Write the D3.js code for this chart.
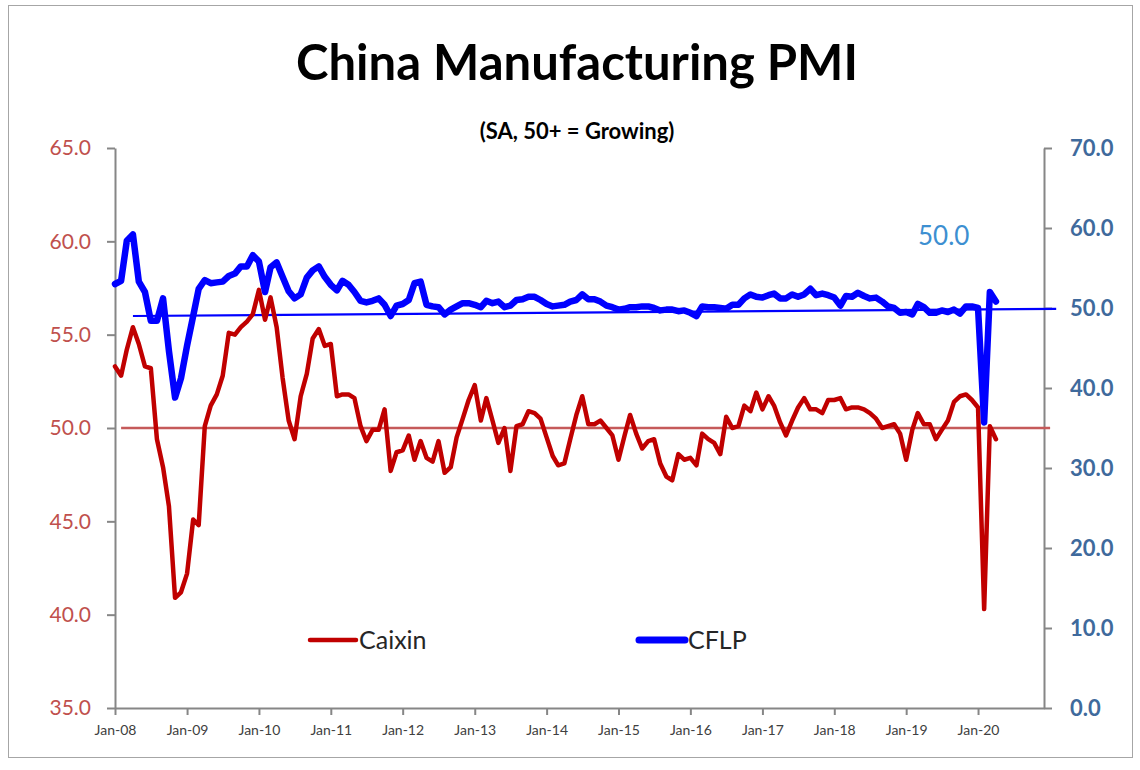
<!DOCTYPE html>
<html>
<head>
<meta charset="utf-8">
<script src="https://cdn.jsdelivr.net/npm/d3@7"></script>
<style>
  body { margin: 0; background: #fff; }
  text { font-family: Lato, "Open Sans", sans-serif; }
</style>
</head>
<body>
<svg width="1140" height="770"></svg>
<script>
// monthly values, Jan-08 .. Apr-20
var firstMonth = new Date(2008, 0, 1);

var caixin = [
  53.3, 52.8, 54.2, 55.4, 54.5, 53.3, 53.2, 49.4, 47.9, 45.8, 40.9, 41.2,
  42.2, 45.1, 44.8, 50.1, 51.2, 51.8, 52.8, 55.1, 55.0, 55.4, 55.7, 56.1,
  57.4, 55.8, 57.0, 55.4, 52.7, 50.4, 49.4, 51.7, 52.9, 54.8, 55.3, 54.4,
  54.5, 51.7, 51.8, 51.8, 51.6, 50.1, 49.3, 49.9, 49.9, 51.0, 47.7, 48.7,
  48.8, 49.6, 48.3, 49.3, 48.4, 48.2, 49.3, 47.6, 47.9, 49.5, 50.5, 51.5,
  52.3, 50.4, 51.6, 50.4, 49.2, 50.0, 47.7, 50.1, 50.2, 50.9, 50.8, 50.5,
  49.5, 48.5, 48.0, 48.1, 49.4, 50.7, 51.7, 50.2, 50.2, 50.4, 50.0, 49.6,
  48.3, 49.6, 50.7, 49.7, 48.9, 49.3, 49.4, 48.1, 47.4, 47.2, 48.6, 48.3,
  48.4, 48.0, 49.7, 49.4, 49.2, 48.6, 50.6, 50.0, 50.1, 51.2, 50.9, 51.9,
  51.0, 51.7, 51.2, 50.3, 49.6, 50.4, 51.1, 51.6, 51.0, 51.0, 50.8, 51.5,
  51.5, 51.6, 51.0, 51.1, 51.1, 51.0, 50.8, 50.5, 50.0, 50.1, 50.2, 49.7,
  48.3, 49.9, 50.8, 50.2, 50.2, 49.4, 49.9, 50.4, 51.4, 51.7, 51.8, 51.5,
  51.1, 40.3, 50.1, 49.4
];

var cflp = [
  53.0, 53.4, 58.4, 59.2, 53.3, 52.0, 48.4, 48.4, 51.2, 44.6, 38.8, 41.2,
  45.3, 49.0, 52.4, 53.5, 53.1, 53.2, 53.3, 54.0, 54.3, 55.2, 55.2, 56.6,
  55.8, 52.0, 55.1, 55.7, 53.9, 52.1, 51.2, 51.7, 53.8, 54.7, 55.2, 53.9,
  52.9, 52.2, 53.4, 52.9, 52.0, 50.9, 50.7, 50.9, 51.2, 50.4, 49.0, 50.3,
  50.5, 51.0, 53.1, 53.3, 50.4, 50.2, 50.1, 49.2, 49.8, 50.2, 50.6, 50.6,
  50.4, 50.1, 50.9, 50.6, 50.8, 50.1, 50.3, 51.0, 51.1, 51.4, 51.4, 51.0,
  50.5, 50.2, 50.3, 50.4, 50.8, 51.0, 51.7, 51.1, 51.1, 50.8, 50.3, 50.1,
  49.8, 49.9, 50.1, 50.1, 50.2, 50.2, 50.0, 49.7, 49.8, 49.8, 49.6, 49.7,
  49.4, 49.0, 50.2, 50.1, 50.1, 50.0, 49.9, 50.4, 50.4, 51.2, 51.7, 51.4,
  51.3, 51.6, 51.8, 51.2, 51.2, 51.7, 51.4, 51.7, 52.4, 51.6, 51.8, 51.6,
  51.3, 50.3, 51.5, 51.4, 51.9, 51.5, 51.2, 51.3, 50.8, 50.2, 50.0, 49.4,
  49.5, 49.2, 50.5, 50.1, 49.4, 49.4, 49.7, 49.5, 49.8, 49.3, 50.2, 50.2,
  50.0, 35.7, 52.0, 50.8
];

// 50 reference lines
var caixinRef = [[new Date(2008, 1, 1), 50], [new Date(2021, 0, 1), 50]];
var cflpRef = [[new Date(2008, 3, 1), 49.0], [new Date(2021, 1, 1), 49.9]];

var leftTicks = [35, 40, 45, 50, 55, 60, 65];
var rightTicks = [0, 10, 20, 30, 40, 50, 60, 70];
var yearTicks = d3.range(2008, 2021).map(function(y) { return new Date(y, 0, 1); });

var svg = d3.select("svg");

// chart frame
svg.append("rect")
  .attr("x", 8.5).attr("y", 5.5)
  .attr("width", 1124).attr("height", 752)
  .attr("fill", "none").attr("stroke", "#a6a6a6").attr("stroke-width", 1);

var x = d3.scaleTime().domain([firstMonth, new Date(2020, 11, 1)]).range([115, 1044]),
    yL = d3.scaleLinear().domain([35, 65]).range([708, 148]),
    yR = d3.scaleLinear().domain([0, 70]).range([708, 148]);

function month(i) { return d3.timeMonth.offset(firstMonth, i); }

var axisColor = "#868686";

// left axis
var gl = svg.append("g").attr("transform", "translate(115,0)")
  .call(d3.axisLeft(yL).tickValues(leftTicks).tickFormat(d3.format(".1f"))
    .tickSize(8).tickSizeOuter(0).tickPadding(16));
gl.selectAll("text").attr("fill", "#c0504d").style("font-size", "21px");

// right axis
var gr = svg.append("g").attr("transform", "translate(1044,0)")
  .call(d3.axisRight(yR).tickValues(rightTicks).tickFormat(d3.format(".1f"))
    .tickSize(8).tickSizeOuter(0).tickPadding(18));
gr.selectAll("text").attr("fill", "#3f6a9c").style("font-size", "22px").style("font-weight", "bold");

// bottom axis
var gb = svg.append("g").attr("transform", "translate(0,708)")
  .call(d3.axisBottom(x).tickValues(yearTicks).tickFormat(d3.timeFormat("%b-%y"))
    .tickSize(7).tickSizeOuter(0).tickPadding(10));
gb.selectAll("text").attr("fill", "#404040").style("font-size", "14px");

svg.selectAll(".domain, .tick line").attr("stroke", axisColor).attr("stroke-width", 2);

var lineL = d3.line().x(function(d) { return x(d[0]); }).y(function(d) { return yL(d[1]); }),
    lineR = d3.line().x(function(d) { return x(d[0]); }).y(function(d) { return yR(d[1]); });

svg.append("path").datum(caixinRef)
  .attr("d", lineL).attr("fill", "none").attr("stroke", "#c55a5a").attr("stroke-width", 2.5);
svg.append("path").datum(cflpRef)
  .attr("d", lineR).attr("fill", "none").attr("stroke", "#0000ff").attr("stroke-width", 2.2);

svg.append("path")
  .datum(caixin.map(function(v, i) { return [month(i), v]; }))
  .attr("d", lineL).attr("fill", "none")
  .attr("stroke", "#c00000").attr("stroke-width", 4.5)
  .attr("stroke-linejoin", "round").attr("stroke-linecap", "round");

svg.append("path")
  .datum(cflp.map(function(v, i) { return [month(i), v]; }))
  .attr("d", lineR).attr("fill", "none")
  .attr("stroke", "#0000ff").attr("stroke-width", 6.5)
  .attr("stroke-linejoin", "round").attr("stroke-linecap", "round");

// titles
svg.append("text")
  .attr("x", 577).attr("y", 80)
  .attr("text-anchor", "middle")
  .style("font-size", "49px").style("font-weight", "bold").attr("fill", "#000")
  .text("China Manufacturing PMI");

svg.append("text")
  .attr("x", 577).attr("y", 139)
  .attr("text-anchor", "middle")
  .style("font-size", "22px").style("font-weight", "bold").attr("fill", "#000")
  .text("(SA, 50+ = Growing)");

svg.append("text")
  .attr("x", 918).attr("y", 245)
  .style("font-size", "26px").attr("fill", "#3d8fd1")
  .text("50.0");

// legend
var legend = [
  {name: "Caixin", color: "#c00000", width: 4.5, x: 310},
  {name: "CFLP", color: "#0000ff", width: 7, x: 639}
];
var lg = svg.selectAll(".legend").data(legend).enter().append("g")
  .attr("class", "legend")
  .attr("transform", function(d) { return "translate(" + d.x + ",640)"; });
lg.append("line")
  .attr("x1", 0).attr("x2", 46).attr("y1", 0).attr("y2", 0)
  .attr("stroke", function(d) { return d.color; })
  .attr("stroke-width", function(d) { return d.width; })
  .attr("stroke-linecap", "round");
lg.append("text")
  .attr("x", 49).attr("dy", "0.35em")
  .style("font-size", "25px").attr("fill", "#262626")
  .text(function(d) { return d.name; });
</script>
</body>
</html>
